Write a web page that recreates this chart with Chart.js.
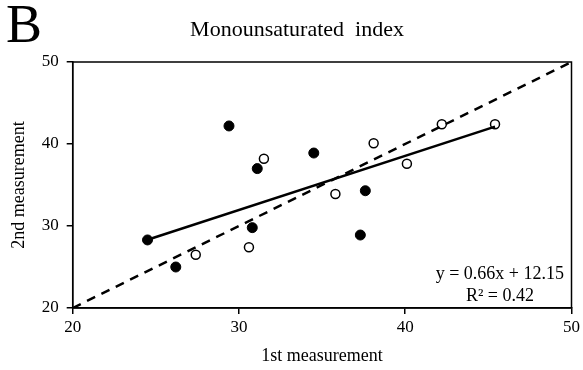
<!DOCTYPE html>
<html>
<head>
<meta charset="utf-8">
<script src="https://cdn.jsdelivr.net/npm/chart.js@4.4.1/dist/chart.umd.min.js"></script>
<style>
  html, body { margin: 0; padding: 0; background: #fff; }
  #wrap { width: 583px; height: 370px; }
</style>
</head>
<body>
<div id="wrap"><canvas id="c" width="583" height="370"></canvas></div>
<script>
  let filledX = [24.5, 26.2, 29.4, 31.1, 30.8, 34.5, 37.6, 37.3];
  let filledY = [28.3, 25.0, 42.2, 37.0, 29.8, 38.9, 34.3, 28.9];
  let openX = [27.4, 31.5, 30.6, 35.8, 38.1, 40.1, 42.2, 45.4];
  let openY = [26.5, 38.2, 27.4, 33.9, 40.1, 37.6, 42.4, 42.4];

  let slope = 0.66;
  let intercept = 12.15;
  let r2 = 0.42;

  let axisMin = 20;
  let axisMax = 50;
  let tickStep = 10;

  let serif = '"Liberation Serif", "Times New Roman", serif';

  function toPoints(xs, ys) {
    return xs.map((x, i) => ({ x: x, y: ys[i] }));
  }

  let allX = filledX.concat(openX);
  let fitMin = Math.min(...allX);
  let fitMax = Math.max(...allX);
  let fitLine = [fitMin, fitMax].map(x => ({ x: x, y: slope * x + intercept }));
  let identityLine = [axisMin, axisMax].map(v => ({ x: v, y: v }));

  // frame, title, panel letter and equation
  let decorPlugin = {
    id: 'decor',
    afterDraw(chart) {
      let ctx = chart.ctx;
      let a = chart.chartArea;
      ctx.save();
      ctx.strokeStyle = '#000';
      ctx.lineWidth = 1.5;
      ctx.strokeRect(a.left, a.top, a.right - a.left, a.bottom - a.top);

      ctx.fillStyle = '#000';
      ctx.textBaseline = 'middle';
      ctx.font = '54px ' + serif;
      ctx.textAlign = 'left';
      ctx.fillText('B', 6, 28);

      ctx.font = '22px ' + serif;
      ctx.textAlign = 'center';
      ctx.fillText('Monounsaturated  index', 297, 30);

      ctx.font = '18px ' + serif;
      ctx.textAlign = 'right';
      ctx.fillText('y = ' + slope.toFixed(2) + 'x + ' + intercept.toFixed(2), 564, 274);
      ctx.fillText('R\u00B2 = ' + r2.toFixed(2), 534, 296);
      ctx.restore();
    }
  };

  let tickFont = { family: serif, size: 17 };
  let titleFont = { family: serif, size: 18 };

  new Chart(document.getElementById('c').getContext('2d'), {
    type: 'scatter',
    data: {
      datasets: [
        {
          label: 'identity',
          type: 'line',
          data: identityLine,
          borderColor: '#000',
          borderWidth: 2.5,
          borderDash: [9, 7],
          pointRadius: 0,
          fill: false
        },
        {
          label: 'fit',
          type: 'line',
          data: fitLine,
          borderColor: '#000',
          borderWidth: 2.5,
          pointRadius: 0,
          fill: false
        },
        {
          label: 'filled',
          data: toPoints(filledX, filledY),
          backgroundColor: '#000',
          borderColor: '#000',
          pointRadius: 5,
          borderWidth: 1
        },
        {
          label: 'open',
          data: toPoints(openX, openY),
          backgroundColor: '#fff',
          borderColor: '#000',
          pointRadius: 4.5,
          borderWidth: 1.5
        }
      ]
    },
    options: {
      responsive: false,
      animation: false,
      layout: { padding: { left: 0, top: 62, right: 10, bottom: 0 } },
      plugins: {
        legend: { display: false },
        tooltip: { enabled: false }
      },
      scales: {
        x: {
          type: 'linear',
          min: axisMin,
          max: axisMax,
          ticks: { stepSize: tickStep, color: '#000', font: tickFont, padding: 3 },
          grid: { drawOnChartArea: false, tickLength: 6, color: '#000', lineWidth: 1.5 },
          border: { color: '#000', width: 1.5 },
          title: { display: true, text: '1st measurement', color: '#000', font: titleFont, padding: { top: 0, bottom: 3 } },
          afterFit(scale) { scale.height = 62; }
        },
        y: {
          type: 'linear',
          min: axisMin,
          max: axisMax,
          ticks: { stepSize: tickStep, color: '#000', font: tickFont, padding: 8 },
          grid: { drawOnChartArea: false, tickLength: 6, color: '#000', lineWidth: 1.5 },
          border: { color: '#000', width: 1.5 },
          title: { display: true, text: '2nd measurement', color: '#000', font: titleFont, padding: { top: 8, bottom: 0 } },
          afterFit(scale) { scale.width = 72.7; }
        }
      }
    },
    plugins: [decorPlugin]
  });
</script>
</body>
</html>
